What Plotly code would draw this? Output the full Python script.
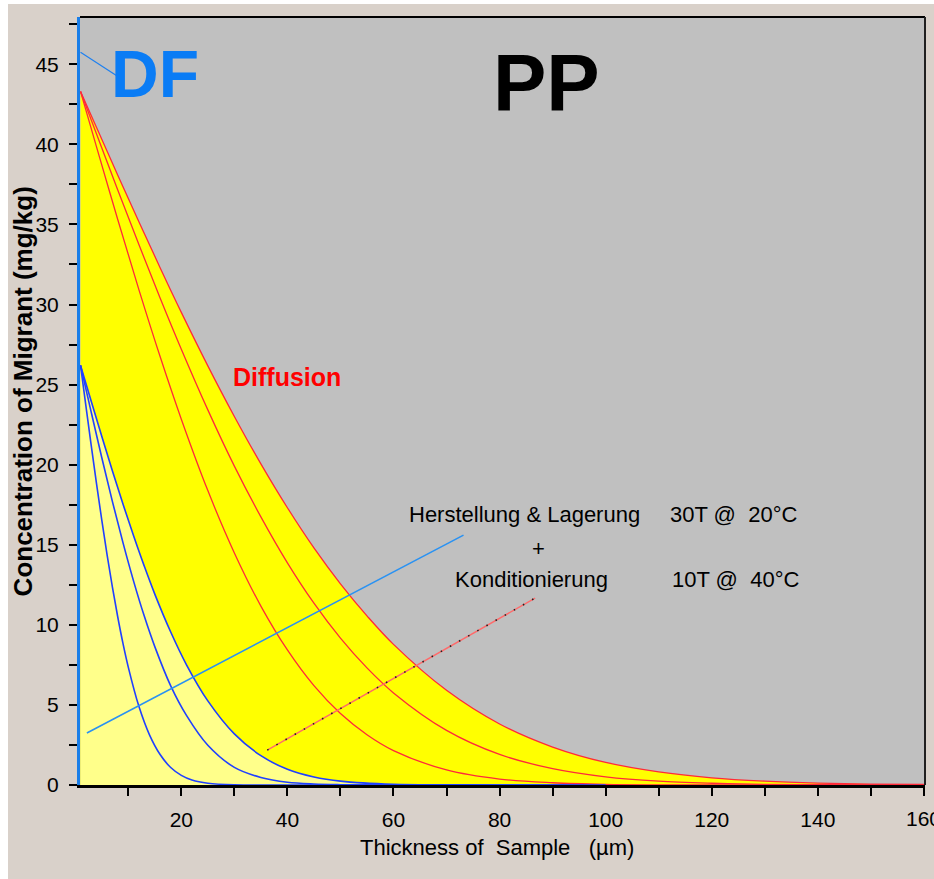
import plotly.graph_objects as go

# ---- data ----
red_x = [1, 4, 8, 12, 16, 20, 25, 30, 35, 40, 45, 50, 55, 60, 70, 80, 90, 100, 110, 120, 130, 140, 150, 160]
red_outer = [43.30, 41.06, 38.09, 35.17, 32.30, 29.51, 26.17, 23.01, 20.05, 17.31, 14.80, 12.56, 10.56, 8.78,
             5.91, 3.81, 2.37, 1.41, 0.82, 0.45, 0.24, 0.12, 0.06, 0.03]
red_mid = [43.30, 40.66, 37.17, 33.74, 30.41, 27.21, 23.42, 19.91, 16.74, 13.87, 11.35, 9.17, 7.31, 5.75,
           3.41, 1.91, 1.02, 0.51, 0.24, 0.11, 0.04, 0.02, 0.01, 0.0]
red_inner = [43.30, 39.86, 35.32, 30.93, 26.75, 22.84, 18.38, 14.49, 11.17, 8.43, 6.20, 4.46, 3.14, 2.15,
             0.94, 0.37, 0.14, 0.04, 0.01, 0.0, 0.0, 0.0, 0.0, 0.0]

blue_x = [1, 3, 5, 7, 9, 11, 13, 15, 18, 21, 25, 30, 35, 40, 45, 50, 60, 70, 80, 100]
blue_outer = [26.20, 23.97, 21.77, 19.62, 17.54, 15.56, 13.68, 11.92, 9.55, 7.49, 5.25, 3.19, 1.83, 0.98,
              0.50, 0.24, 0.04, 0.01, 0.0, 0.0]
blue_mid = [26.20, 23.30, 20.45, 17.71, 15.13, 12.73, 10.56, 8.64, 6.19, 4.33, 2.48, 1.10, 0.47, 0.17,
            0.06, 0.02, 0.0, 0.0, 0.0, 0.0]
blue_in_x = [1, 2, 3, 4, 5, 6, 7, 8, 9, 10, 12, 14, 16, 18, 20, 22, 25, 30, 40, 60]
blue_inner = [26.20, 23.70, 21.23, 18.85, 16.55, 14.39, 12.37, 10.52, 8.84, 7.36, 4.91, 3.13, 1.90, 1.09,
              0.60, 0.31, 0.11, 0.01, 0.0, 0.0]

# pointer lines (annotation leaders)
df_ptr_x, df_ptr_y = [1.0, 7.9], [45.75, 44.26]
blue_ptr_x, blue_ptr_y = [2.2, 73.2], [3.25, 15.6]
red_ptr_x, red_ptr_y = [36.2, 86.7], [2.18, 11.67]

x_tickvals = [20, 40, 60, 80, 100, 120, 140, 160]
x_ticktext = ["20", "40", "60", "80", "100", "120", "140", ""]
x_edge_label = "160"
y_tickvals = [0, 5, 10, 15, 20, 25, 30, 35, 40, 45]

FONT = "Liberation Sans, Arial, sans-serif"
RED = "#ff2a3a"
BLUE = "#2040ff"

fig = go.Figure()

fig.add_trace(go.Scatter(x=red_x, y=red_outer, mode="lines", fill="tozeroy", fillcolor="#ffff00",
                         line=dict(color=RED, width=1.3, shape="spline"), hoverinfo="skip"))
fig.add_trace(go.Scatter(x=blue_x, y=blue_outer, mode="lines", fill="tozeroy", fillcolor="#ffff8a",
                         line=dict(color=BLUE, width=1.6, shape="spline"), hoverinfo="skip"))
for yy in (red_mid, red_inner):
    fig.add_trace(go.Scatter(x=red_x, y=yy, mode="lines",
                             line=dict(color=RED, width=1.3, shape="spline"), hoverinfo="skip"))
fig.add_trace(go.Scatter(x=blue_x, y=blue_mid, mode="lines",
                         line=dict(color=BLUE, width=1.6, shape="spline"), hoverinfo="skip"))
fig.add_trace(go.Scatter(x=blue_in_x, y=blue_inner, mode="lines",
                         line=dict(color=BLUE, width=1.6, shape="spline"), hoverinfo="skip"))

# leader lines
fig.add_trace(go.Scatter(x=df_ptr_x, y=df_ptr_y, mode="lines",
                         line=dict(color="#1e80f0", width=1.2), hoverinfo="skip"))
fig.add_trace(go.Scatter(x=blue_ptr_x, y=blue_ptr_y, mode="lines",
                         line=dict(color="#2a92f2", width=1.6), hoverinfo="skip"))
fig.add_trace(go.Scatter(x=red_ptr_x, y=red_ptr_y, mode="lines",
                         line=dict(color="#ff6a6a", width=1.4), hoverinfo="skip"))
fig.add_trace(go.Scatter(x=red_ptr_x, y=red_ptr_y, mode="lines",
                         line=dict(color="#202020", width=1.6, dash="1.5px,9px"), hoverinfo="skip"))

# annotations
ann = []
def txt(x, y, s, size, color="black", bold=False, xanchor="center"):
    ann.append(dict(x=x, y=y, xref="x", yref="y", text=("<b>%s</b>" % s) if bold else s,
                    showarrow=False, xanchor=xanchor, yanchor="middle",
                    font=dict(family=FONT, size=size, color=color)))

txt(15.1, 44.4, "DF", 66, color="#0a7cf5", bold=True)
txt(88.8, 43.85, "PP", 80, color="black", bold=True)
txt(40.0, 25.45, "Diffusion", 25, color="#ff0000", bold=True)
txt(62.5, 16.9, "Herstellung &amp; Lagerung", 22, xanchor="left")
txt(111.8, 16.9, "30T @\u00a0 20°C", 22, xanchor="left")
txt(87.3, 14.75, "+", 22)
txt(71.3, 12.8, "Konditionierung", 22, xanchor="left")
txt(112.2, 12.8, "10T @\u00a0 40°C", 22, xanchor="left")

# edge tick label (would be hidden by plotly since it overflows the page)
ann.append(dict(x=160, y=0, xref="x", yref="y", yshift=-33, showarrow=False, text=x_edge_label,
                xanchor="center", yanchor="middle", font=dict(family=FONT, size=21, color="black")))

ann.append(dict(x=0.493, y=-0.082, xref="paper", yref="paper", showarrow=False,
                text="Thickness of\u00a0 Sample\u00a0\u00a0 (µm)", xanchor="center", yanchor="middle",
                font=dict(family=FONT, size=22, color="black")))
ann.append(dict(x=-0.067, y=0.513, xref="paper", yref="paper", showarrow=False, textangle=-90,
                text="<b>Concentration of Migrant (mg/kg)</b>", xanchor="center", yanchor="middle",
                font=dict(family=FONT, size=26, color="black")))

shapes = [
    # white strips of the picture margin
    dict(type="rect", xref="paper", yref="paper", x0=-0.2, x1=-72 / 845, y0=-0.2, y1=1.1,
         fillcolor="white", line=dict(width=0), layer="below"),
    dict(type="rect", xref="paper", yref="paper", x0=-0.2, x1=1.1, y0=781 / 768, y1=1.1,
         fillcolor="white", line=dict(width=0), layer="below"),
    # top & right frame
    dict(type="line", xref="paper", yref="paper", x0=0, x1=1, y0=1, y1=1,
         line=dict(color="black", width=2)),
    dict(type="line", xref="paper", yref="paper", x0=1, x1=1, y0=0, y1=1,
         line=dict(color="#202020", width=2)),
]

fig.update_layout(
    width=934, height=879,
    margin=dict(l=80, r=9, t=17, b=94),
    paper_bgcolor="#d9d1ca",
    plot_bgcolor="#c0c0c0",
    showlegend=False,
    annotations=ann,
    shapes=shapes,
    font=dict(family=FONT, color="black"),
)
fig.update_xaxes(range=[0.9, 160.2], showgrid=False, zeroline=False, automargin=False,
                 showline=True, linecolor="black", linewidth=3,
                 tickmode="array", tickvals=x_tickvals, ticktext=x_ticktext,
                 ticks="outside", ticklen=8, tickwidth=2,
                 tickcolor="black", tickfont=dict(family=FONT, size=21, color="black"),
                 ticklabelstandoff=6,
                 minor=dict(tickmode="linear", tick0=10, dtick=20, ticks="outside", ticklen=8,
                            tickwidth=2, tickcolor="black", showgrid=False))
fig.update_yaxes(range=[0, 47.95], showgrid=False, zeroline=False, automargin=False,
                 showline=True, linecolor="#1a7ee8", linewidth=3,
                 tickmode="array", tickvals=y_tickvals, ticks="outside", ticklen=8, tickwidth=2,
                 tickcolor="black", tickfont=dict(family=FONT, size=21, color="black"),
                 ticklabelstandoff=6,
                 minor=dict(tickmode="linear", tick0=2.5, dtick=5, ticks="outside", ticklen=8,
                            tickwidth=2, tickcolor="black", showgrid=False))

fig.write_html("out.html")
